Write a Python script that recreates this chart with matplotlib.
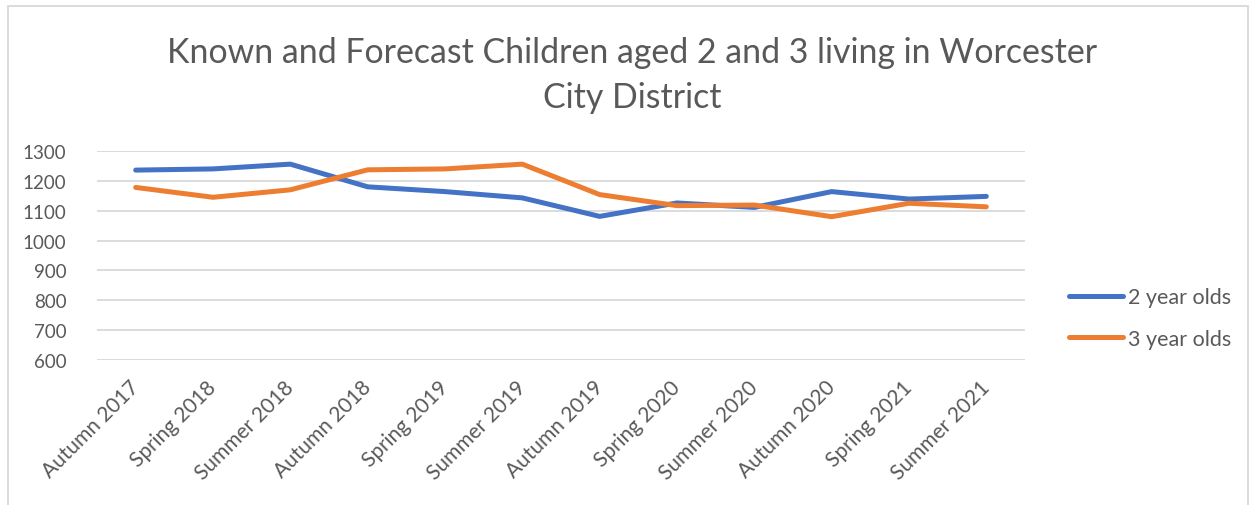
import matplotlib.pyplot as plt
import numpy as np

# data
terms = ['Autumn 2017', 'Spring 2018', 'Summer 2018', 'Autumn 2018', 'Spring 2019',
         'Summer 2019', 'Autumn 2019', 'Spring 2020', 'Summer 2020', 'Autumn 2020',
         'Spring 2021', 'Summer 2021']
two_year_olds = [1236, 1240, 1256, 1180, 1164, 1143, 1081, 1126, 1111, 1164, 1139, 1148]
three_year_olds = [1178, 1145, 1170, 1237, 1240, 1256, 1154, 1117, 1119, 1080, 1125, 1113]

text_col = '#595959'
plt.rcParams['font.family'] = ['Lato', 'DejaVu Sans']

fig = plt.figure(figsize=(12.55, 5.06), dpi=100)
ax = fig.add_axes([0.0773, 0.2866, 0.7394, 0.413])

x = np.arange(len(terms))
ax.plot(x, two_year_olds, color='#4472C4', linewidth=3.6, solid_capstyle='round',
        label='2 year olds')
ax.plot(x, three_year_olds, color='#ED7D31', linewidth=3.6, solid_capstyle='round',
        label='3 year olds')

# axes
ax.set_xlim(-0.5, len(terms) - 0.5)
ax.set_ylim(600, 1300)
ax.set_yticks(np.arange(600, 1301, 100))
ax.yaxis.grid(True, color='#D9D9D9', linewidth=1.3)
ax.set_axisbelow(True)
for s in ax.spines.values():
    s.set_visible(False)
ax.tick_params(axis='both', length=0, colors=text_col, labelsize=13.5)
ax.tick_params(axis='y', pad=22)
ax.set_xticks(x)
ax.set_xticklabels(terms, rotation=45, ha='right', va='center', rotation_mode='anchor',
                   fontsize=15)
ax.tick_params(axis='x', pad=17)

# legend
ax.legend(loc='center left', bbox_to_anchor=(1.027, 0.2), frameon=False,
          fontsize=15.5, labelcolor=text_col, handlelength=2.5, handletextpad=0.22,
          labelspacing=1.0)

# title
fig.text(0.504, 0.85, 'Known and Forecast Children aged 2 and 3 living in Worcester\nCity District',
         ha='center', va='center', fontsize=24.4, color=text_col, linespacing=1.5)

# chart frame
fig.patches.append(plt.Rectangle((8 / 1255, -0.01), 1240 / 1255, 1 - 7 / 506 + 0.01,
                                 transform=fig.transFigure, fill=False,
                                 edgecolor='#D9D9D9', linewidth=1.3))

plt.savefig('out.png', dpi=100)
